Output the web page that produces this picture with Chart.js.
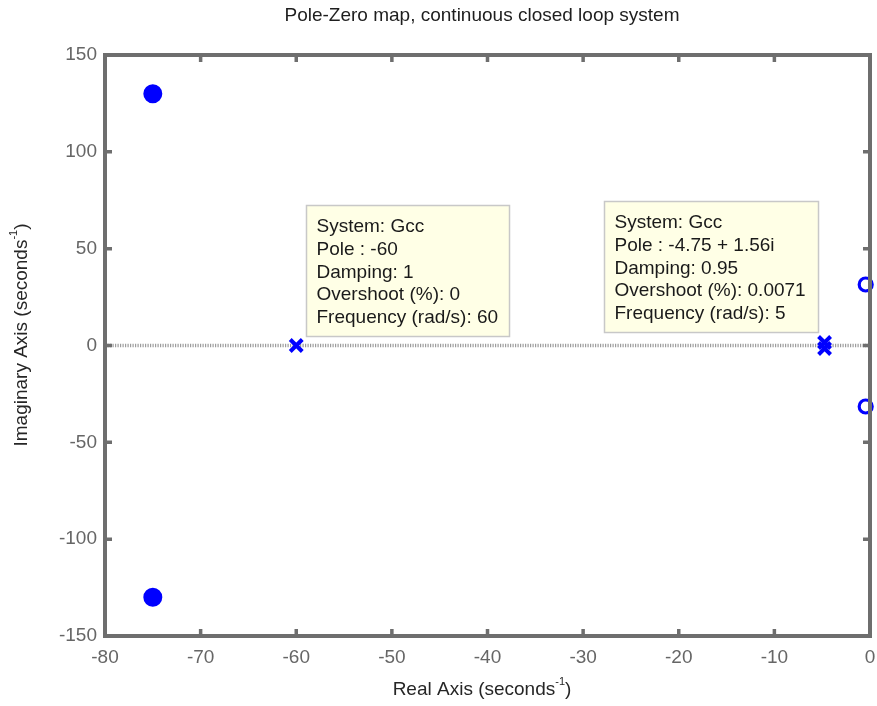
<!DOCTYPE html>
<html>
<head>
<meta charset="utf-8">
<title>Pole-Zero map</title>
<script src="https://cdn.jsdelivr.net/npm/chart.js@4/dist/chart.umd.min.js"></script>
<style>
  html, body { margin: 0; padding: 0; background: #ffffff; }
  #wrap { width: 877px; height: 706px; }
</style>
</head>
<body>
<div id="wrap"><canvas id="c" width="877" height="706"></canvas></div>
<script>
// Closed-loop poles (x markers)
const poleRe = [-60, -4.75, -4.75];
const poleIm = [0, 1.56, -1.56];
// Closed-loop zeros (o markers)
const zeroRe = [-0.45, -0.45];
const zeroIm = [31.5, -31.5];
// Coincident pole/zero pairs (drawn solid)
const pairRe = [-75, -75];
const pairIm = [130, -130];

// Axis ticks
const xTickValues = [-80, -70, -60, -50, -40, -30, -20, -10, 0];
const yTickValues = [-150, -100, -50, 0, 50, 100, 150];

// Data tip contents
const tipPole1 = ['System: Gcc', 'Pole : -60', 'Damping: 1', 'Overshoot (%): 0', 'Frequency (rad/s): 60'];
const tipPole2 = ['System: Gcc', 'Pole : -4.75 + 1.56i', 'Damping: 0.95', 'Overshoot (%): 0.0071', 'Frequency (rad/s): 5'];

const titleText = 'Pole-Zero map, continuous closed loop system';
const xTitle = ['Real Axis (seconds', '-1', ')'];
const yTitle = ['Imaginary Axis (seconds', '-1', ')'];

const BLUE = '#0000ff';
const FRAME = '#6e6e6e';
const FONT = '"Liberation Sans", Arial, Helvetica, sans-serif';

const toPts = (re, im) => re.map((v, i) => ({ x: v, y: im[i] }));

// draws a label with a superscript part: [base, sup, tail]
function drawSupText(ctx, parts, size) {
  const supSize = Math.round(size * 0.6);
  ctx.font = size + 'px ' + FONT;
  const w0 = ctx.measureText(parts[0]).width;
  const w2 = ctx.measureText(parts[2]).width;
  ctx.font = supSize + 'px ' + FONT;
  const w1 = ctx.measureText(parts[1]).width;
  const total = w0 + w1 + w2;
  let x = -total / 2;
  ctx.textBaseline = 'middle';
  ctx.textAlign = 'left';
  ctx.font = size + 'px ' + FONT;
  ctx.fillText(parts[0], x, 0);
  x += w0;
  ctx.font = supSize + 'px ' + FONT;
  ctx.fillText(parts[1], x, -size * 0.4);
  x += w1;
  ctx.font = size + 'px ' + FONT;
  ctx.fillText(parts[2], x, 0);
}

const decorations = {
  id: 'decorations',
  afterDatasetsDraw(chart) {
    const { ctx, chartArea: a, scales } = chart;
    ctx.save();
    // axes box with inward ticks
    ctx.strokeStyle = FRAME;
    ctx.lineWidth = 4;
    ctx.strokeRect(a.left, a.top, a.right - a.left, a.bottom - a.top);
    ctx.lineWidth = 3.5;
    const tl = 7;
    ctx.beginPath();
    xTickValues.forEach(v => {
      const px = scales.x.getPixelForValue(v);
      if (Math.abs(px - a.left) < 2 || Math.abs(px - a.right) < 2) return;
      ctx.moveTo(px, a.bottom); ctx.lineTo(px, a.bottom - tl);
      ctx.moveTo(px, a.top); ctx.lineTo(px, a.top + tl);
    });
    yTickValues.forEach(v => {
      const py = scales.y.getPixelForValue(v);
      if (Math.abs(py - a.top) < 2 || Math.abs(py - a.bottom) < 2) return;
      ctx.moveTo(a.left, py); ctx.lineTo(a.left + tl, py);
      ctx.moveTo(a.right, py); ctx.lineTo(a.right - tl, py);
    });
    ctx.stroke();
    ctx.restore();
  },
  afterDraw(chart) {
    const { ctx, chartArea: a, scales } = chart;
    ctx.save();
    // title
    ctx.fillStyle = '#1e1e1e';
    ctx.font = '19px ' + FONT;
    ctx.textAlign = 'center';
    ctx.textBaseline = 'middle';
    ctx.fillText(titleText, 482, 16);
    // axis titles
    ctx.fillStyle = '#262626';
    ctx.save();
    ctx.translate(482, 690);
    drawSupText(ctx, xTitle, 19);
    ctx.restore();
    ctx.save();
    ctx.translate(22, 335);
    ctx.rotate(-Math.PI / 2);
    drawSupText(ctx, yTitle, 19);
    ctx.restore();

    // data tips
    const tips = [
      { re: poleRe[0], im: poleIm[0], dx: 9.5, dy: -140.5, w: 203, lines: tipPole1 },
      { re: poleRe[1], im: poleIm[1], dx: -221, dy: -141, w: 214, lines: tipPole2 }
    ];
    tips.forEach(t => {
      const px = scales.x.getPixelForValue(t.re);
      const py = scales.y.getPixelForValue(t.im);
      const bx = Math.round(px + t.dx) + 0.5;
      const by = Math.round(py + t.dy) + 0.5;
      const h = 131;
      ctx.fillStyle = '#ffffe6';
      ctx.strokeStyle = '#c8c8c8';
      ctx.lineWidth = 1.5;
      ctx.fillRect(bx, by, t.w, h);
      ctx.strokeRect(bx, by, t.w, h);
      ctx.fillStyle = '#1a1a1a';
      ctx.font = '19px ' + FONT;
      ctx.textAlign = 'left';
      ctx.textBaseline = 'middle';
      t.lines.forEach((ln, i) => {
        ctx.fillText(ln, bx + 10, by + 21.5 + i * 22.7);
      });
    });
    ctx.restore();
  }
};

new Chart(document.getElementById('c'), {
  type: 'scatter',
  data: {
    datasets: [
      {
        label: 'pairs',
        data: toPts(pairRe, pairIm),
        pointStyle: 'circle',
        pointRadius: 8.5,
        pointBackgroundColor: BLUE,
        pointBorderColor: BLUE,
        pointBorderWidth: 2,
        clip: false
      },
      {
        label: 'zeros',
        data: toPts(zeroRe, zeroIm),
        pointStyle: 'circle',
        pointRadius: 6.5,
        pointBackgroundColor: 'rgba(0,0,0,0)',
        pointBorderColor: BLUE,
        pointBorderWidth: 3.2,
        clip: false
      },
      {
        label: 'poles',
        data: toPts(poleRe, poleIm),
        pointStyle: 'crossRot',
        pointRadius: 8.5,
        pointBorderColor: BLUE,
        pointBorderWidth: 4,
        clip: false
      },
      {
        label: 'real axis',
        type: 'line',
        data: [{ x: xTickValues[0], y: 0 }, { x: xTickValues[xTickValues.length - 1], y: 0 }],
        borderColor: '#9c9c9c',
        borderWidth: 3.5,
        borderDash: [1.2, 1.3],
        pointRadius: 0,
        fill: false
      }
    ]
  },
  options: {
    responsive: false,
    animation: false,
    devicePixelRatio: 1,
    layout: { padding: { top: 55, right: 7, left: 0, bottom: 0 } },
    plugins: {
      legend: { display: false },
      tooltip: { enabled: false },
      title: { display: false }
    },
    scales: {
      x: {
        type: 'linear',
        min: -80, max: 0,
        afterBuildTicks: s => { s.ticks = xTickValues.map(v => ({ value: v })); },
        afterFit: s => { s.height = 70; s.paddingLeft = 0; s.paddingRight = 0; },
        grid: { display: false, drawTicks: false },
        border: { display: false },
        ticks: { color: '#666666', font: { family: FONT, size: 19 }, padding: 10, maxRotation: 0, autoSkip: false }
      },
      y: {
        type: 'linear',
        min: -150, max: 150,
        afterBuildTicks: s => { s.ticks = yTickValues.map(v => ({ value: v })); },
        afterFit: s => { s.width = 105; s.paddingTop = 0; s.paddingBottom = 0; },
        grid: { display: false, drawTicks: false },
        border: { display: false },
        ticks: { color: '#666666', font: { family: FONT, size: 19 }, padding: 8, autoSkip: false }
      }
    }
  },
  plugins: [decorations, {
    id: 'areaFix',
    // keep the plotting box pinned to fixed margins on the canvas
    afterLayout(chart) {
      const a = chart.chartArea;
      const right = chart.width - 7;
      if (a.right !== right) {
        a.right = right;
        a.width = a.right - a.left;
        const x = chart.scales.x;
        x.right = right;
        x.width = right - x.left;
        x.configure();
      }
    }
  }]
});
</script>
</body>
</html>
